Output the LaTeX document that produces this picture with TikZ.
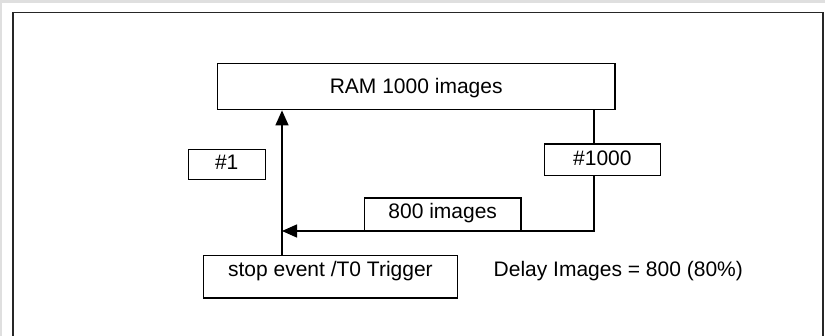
\documentclass[tikz,border=0pt]{standalone}
\usepackage{fontspec}
\setmainfont{Liberation Sans}
\usetikzlibrary{arrows.meta}
\begin{document}
\begin{tikzpicture}[x=1pt,y=-1pt,
  box/.style={draw=black,line width=1.4pt,inner sep=0pt,anchor=north west,font=\fontsize{21}{24}\selectfont,align=center},
  conn/.style={line width=1.4pt},
  arr/.style={conn,-{Triangle[length=15pt,width=13pt]}},
  lbl/.style={inner sep=0pt,font=\fontsize{21}{24}\selectfont}]
\useasboundingbox (0,0) rectangle (825,336);
\fill[gray!25] (0,0) rectangle (825,336);
\fill[white] (2,3) rectangle (825,336);
\draw[line width=1.6pt,black!85] (12.7,340) -- (12.7,12.5) -- (822.7,12.5) -- (822.7,340);
% boxes: text height = baseline - top, text depth = bottom - baseline
\node[box,minimum width=397.6pt,text height=30.6pt,text depth=15.7pt] (ram) at (216.7,62.7) {RAM 1000 images};
\node[box,minimum width=76.9pt,text height=19.5pt,text depth=10.5pt] (n1) at (187.6,149) {\#1};
\node[box,minimum width=115.9pt,text height=21.2pt,text depth=10.2pt] (n1000) at (543.7,143.3) {\#1000};
\node[box,minimum width=156.8pt,text height=20.3pt,text depth=12.4pt] (n800) at (363.6,197.2) {800 images};
\node[box,minimum width=254pt,text height=21pt,text depth=21.3pt] (stop) at (202.7,255) {stop event /T0 Trigger};
\node[lbl,anchor=base west] (delay) at (493.5,276.5) {Delay Images = 800 (80\%)};
% connectors
\coordinate (rx) at (594,0);
\coordinate (vx) at (282,0);
\coordinate (hy) at (0,231);
\draw[conn] (ram.south -| rx) -- (n1000.north -| rx);
\draw[arr] (n1000.south -| rx) |- (vx |- hy);
\draw[arr] (stop.north -| vx) -- (ram.south -| vx);
\end{tikzpicture}
\end{document}
